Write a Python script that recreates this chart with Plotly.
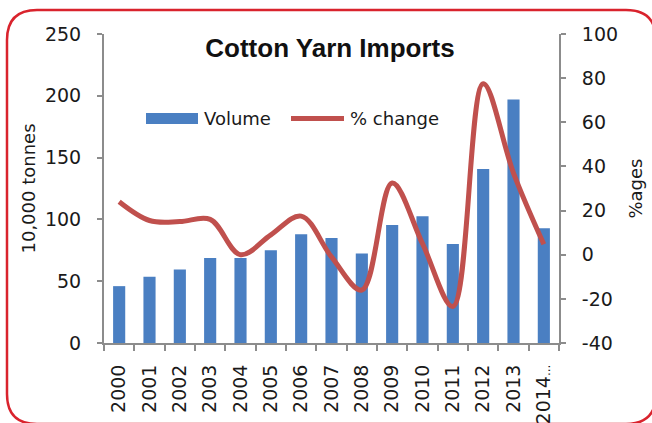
import plotly.graph_objects as go

years = ["2000", "2001", "2002", "2003", "2004", "2005", "2006", "2007",
         "2008", "2009", "2010", "2011", "2012", "2013", "2014-15"]
year_labels = ["2000", "2001", "2002", "2003", "2004", "2005", "2006", "2007",
               "2008", "2009", "2010", "2011", "2012", "2013",
               "2014<span style='font-size:12px'>...</span>"]
volume = [46, 53.5, 59.5, 68.8, 68.8, 75, 88, 85, 72.5, 95.5, 102.5, 80, 140.8, 197, 92.8]
pct_change = [24, 15.5, 15, 16, 0, 9, 17.5, -1, -16, 32.5, 5, -23.5, 77.5, 37, 4.7]

y1_ticks = [0, 50, 100, 150, 200, 250]
y2_ticks = [-40, -20, 0, 20, 40, 60, 80, 100]
y2_ticktext = ["-40", "-20", "0", "20", "40", "60", "80", "100"]

W, H = 652, 423
ML, MR, MT, MB = 104, 93, 34, 80
PW, PH = W - ML - MR, H - MT - MB

BAR_COLOR = "#4a7fc2"
LINE_COLOR = "#c0504d"
AXIS_COLOR = "#8c8c8c"
TEXT_COLOR = "#1a1a1a"
FONT = "DejaVu Sans"

fig = go.Figure()
fig.add_trace(go.Bar(x=years, y=volume, name="Volume", marker_color=BAR_COLOR,
                     marker_line_width=0, yaxis="y", showlegend=False))
fig.add_trace(go.Scatter(x=years, y=pct_change, name="% change", mode="lines",
                         line=dict(color=LINE_COLOR, width=5, shape="spline", smoothing=1),
                         yaxis="y2", showlegend=False))


def px2paper_x(px):
    return (px - ML) / PW


def px2paper_y(py):
    return (H - MB - py) / PH


# rounded red frame
x0, x1, y0, y1, r = 7, 656, 10, 424, 30
pts = [
    ("M", [(x0 + r, y0)]),
    ("L", [(x1 - r, y0)]),
    ("Q", [(x1, y0), (x1, y0 + r)]),
    ("L", [(x1, y1 - r)]),
    ("Q", [(x1, y1), (x1 - r, y1)]),
    ("L", [(x0 + r, y1)]),
    ("Q", [(x0, y1), (x0, y1 - r)]),
    ("L", [(x0, y0 + r)]),
    ("Q", [(x0, y0), (x0 + r, y0)]),
]
path = ""
for cmd, ps in pts:
    path += cmd + " ".join(f"{px2paper_x(a):.5f},{px2paper_y(b):.5f}" for a, b in ps) + " "
path += "Z"
fig.add_shape(type="path", path=path, xref="paper", yref="paper",
              line=dict(color="#d9232d", width=2.5), fillcolor="rgba(0,0,0,0)", layer="above")

# legend (drawn as swatches + labels)
fig.add_shape(type="rect", xref="paper", yref="paper",
              x0=px2paper_x(146), x1=px2paper_x(198), y0=px2paper_y(124), y1=px2paper_y(113),
              fillcolor=BAR_COLOR, line_width=0)
fig.add_shape(type="line", xref="paper", yref="paper",
              x0=px2paper_x(291), x1=px2paper_x(344), y0=px2paper_y(118.5), y1=px2paper_y(118.5),
              line=dict(color=LINE_COLOR, width=5))
legfont = dict(family=FONT, size=18, color=TEXT_COLOR)
fig.add_annotation(text="Volume", xref="paper", yref="paper", x=px2paper_x(202),
                   y=px2paper_y(118.5), xanchor="left", yanchor="middle", showarrow=False,
                   font=legfont)
fig.add_annotation(text="% change", xref="paper", yref="paper", x=px2paper_x(348),
                   y=px2paper_y(118.5), xanchor="left", yanchor="middle", showarrow=False,
                   font=legfont)

tickfont = dict(family=FONT, size=19, color=TEXT_COLOR)
titlefont = dict(family=FONT, size=18, color=TEXT_COLOR)

fig.update_layout(
    width=W, height=H,
    margin=dict(l=ML, r=MR, t=MT, b=MB, pad=0, autoexpand=False),
    paper_bgcolor="white", plot_bgcolor="white",
    bargap=0.6,
    showlegend=False,
    title=dict(text="<b>Cotton Yarn Imports</b>", x=330 / W, xanchor="center",
               y=1 - 48 / H, yanchor="middle", yref="container",
               font=dict(family="Liberation Sans", size=26, color="#111111")),
    xaxis=dict(type="category", tickvals=years, ticktext=year_labels,
               showline=True, linecolor=AXIS_COLOR, linewidth=2,
               ticks="outside", tickson="boundaries", ticklen=6, tickcolor=AXIS_COLOR,
               tickwidth=2, tickangle=-90, tickfont=tickfont, showgrid=False,
               ticklabelstandoff=12, automargin=False),
    yaxis=dict(range=[0, 250], tickvals=y1_ticks, showline=True, linecolor=AXIS_COLOR,
               linewidth=2, ticks="outside", ticklen=5, tickcolor=AXIS_COLOR, tickwidth=2,
               tickfont=tickfont, showgrid=False, zeroline=False, automargin=False,
               title=dict(text="10,000 tonnes", font=titlefont, standoff=5),
               ticklabelstandoff=12),
    yaxis2=dict(range=[-40, 100], tickvals=y2_ticks, ticktext=y2_ticktext, overlaying="y",
                side="right", showline=True, linecolor=AXIS_COLOR, linewidth=2,
                ticks="outside", ticklen=5, tickcolor=AXIS_COLOR, tickwidth=2,
                tickfont=tickfont, showgrid=False, zeroline=False, automargin=False,
                title=dict(text="%ages", font=titlefont, standoff=12),
                ticklabelstandoff=12),
)

fig.write_html("out.html", config={"displayModeBar": False},
               post_script="document.body.style.margin='0';")
